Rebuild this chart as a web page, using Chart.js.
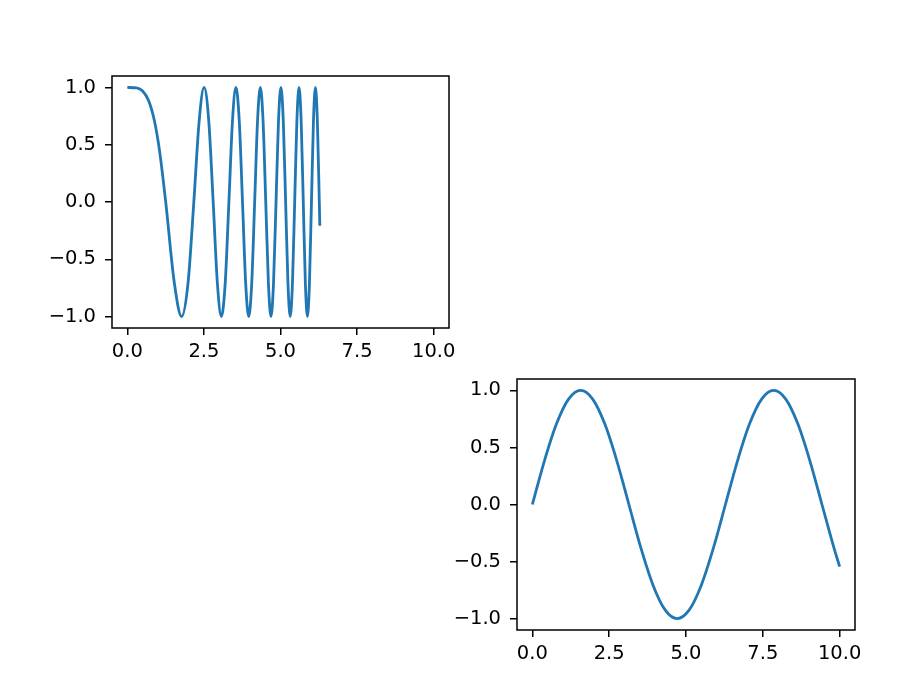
<!DOCTYPE html>
<html>
<head>
<meta charset="utf-8">
<script src="https://cdn.jsdelivr.net/npm/chart.js@4"></script>
<style>
html,body{margin:0;padding:0;background:#fff}
#wrap{position:relative;width:902px;height:680px}
#wrap canvas{position:absolute;left:0;top:0}
</style>
</head>
<body>
<div id="wrap">
<canvas id="haut" width="902" height="680"></canvas>
<canvas id="bas" width="902" height="680"></canvas>
</div>
<script>
// haut gauche : courbe qui accelere
var x_haut = [0, 0.3, 0.5, 0.7, 0.8862, 1.05, 1.2533, 1.5350, 1.7725, 1.9817, 2.1708, 2.3447, 2.5066,
	2.6587, 2.8025, 2.9393, 3.0700, 3.1954, 3.3160, 3.4324, 3.5449, 3.6540, 3.7599, 3.8630, 3.9633,
	4.0612, 4.1568, 4.2502, 4.3416, 4.4311, 4.5189, 4.6050, 4.6895, 4.7725, 4.8541, 4.9343, 5.0133,
	5.0910, 5.1675, 5.2430, 5.3174, 5.3907, 5.4631, 5.5345, 5.6050, 5.6746, 5.7434, 5.8114, 5.8786,
	5.9450, 6.0107, 6.0757, 6.1400, 6.2036, 6.2666, 6.2832]
var y_haut = [1, 0.996, 0.969, 0.882, 0.707, 0.451, 0, -0.707, -1, -0.707, 0, 0.707, 1,
	0.707, 0, -0.707, -1, -0.707, 0, 0.707, 1, 0.707, 0, -0.707, -1,
	-0.707, 0, 0.707, 1, 0.707, 0, -0.707, -1, -0.707, 0, 0.707, 1,
	0.707, 0, -0.707, -1, -0.707, 0, 0.707, 1, 0.707, 0, -0.707, -1,
	-0.707, 0, 0.707, 1, 0.707, 0, -0.207]
// bas droite : sinus
var x_bas = [0, 0.3927, 0.7854, 1.1781, 1.5708, 1.9635, 2.3562, 2.7489, 3.1416, 3.5343, 3.9270,
	4.3197, 4.7124, 5.1051, 5.4978, 5.8905, 6.2832, 6.6759, 7.0686, 7.4613, 7.8540, 8.2467,
	8.6394, 9.0321, 9.4248, 9.8175, 10]
var y_bas = [0, 0.383, 0.707, 0.924, 1, 0.924, 0.707, 0.383, 0, -0.383, -0.707,
	-0.924, -1, -0.924, -0.707, -0.383, 0, 0.383, 0.707, 0.924, 1, 0.924,
	0.707, 0.383, 0, -0.383, -0.544]
var x_graduations = [0, 2.5, 5, 7.5, 10]
var y_graduations = [-1, -0.5, 0, 0.5, 1]

var police = {family: "DejaVu Sans", size: 19.5}

function points(xs, ys){
	var res = []
	for(var i=0;i<xs.length;i++){
		res.push({x: xs[i], y: ys[i]})
	}
	return res
}
function etiquette(v){
	var t = Math.abs(v).toFixed(1)
	if(v < 0) t = "\u2212" + t
	return t
}
var cadre = {
	id: "cadre",
	afterDraw: function(chart){
		var a = chart.chartArea
		var ctx = chart.ctx
		ctx.save()
		ctx.strokeStyle = "#000"
		ctx.lineWidth = 1.5
		ctx.strokeRect(a.left, a.top, a.right - a.left, a.bottom - a.top)
		ctx.restore()
	}
}
function graphe(id, xs, ys, zone){
	new Chart(id, {
		type: "line",
		data: {datasets: [{data: points(xs, ys), borderColor: "#1f77b4", borderWidth: 2.8,
			pointRadius: 0, cubicInterpolationMode: "monotone", fill: false}]},
		options: {
			responsive: false,
			animation: false,
			devicePixelRatio: 1,
			layout: {padding: {left: 0, top: zone.top, right: 902 - zone.right, bottom: 0}},
			plugins: {legend: {display: false}, tooltip: {enabled: false}},
			scales: {
				x: {type: "linear", min: -0.5, max: 10.5,
					afterBuildTicks: function(s){ s.ticks = x_graduations.map(v => ({value: v})) },
					afterFit: function(s){ s.height = 680 - zone.bottom },
					grid: {drawOnChartArea: false, drawTicks: true, tickLength: 7, color: "#000", lineWidth: 1.5},
					border: {display: false},
					ticks: {font: police, color: "#000", padding: 5, maxRotation: 0,
						callback: function(v){ return etiquette(v) }}},
				y: {type: "linear", min: -1.1, max: 1.1,
					afterBuildTicks: function(s){ s.ticks = y_graduations.map(v => ({value: v})) },
					afterFit: function(s){ s.width = zone.left },
					grid: {drawOnChartArea: false, drawTicks: true, tickLength: 7, color: "#000", lineWidth: 1.5},
					border: {display: false},
					ticks: {font: police, color: "#000", padding: 9,
						callback: function(v){ return etiquette(v) }}}
			}
		},
		plugins: [cadre]
	})
}
graphe("haut", x_haut, y_haut, {left: 112, right: 449, top: 76, bottom: 328})
graphe("bas", x_bas, y_bas, {left: 517, right: 855, top: 379, bottom: 630})
</script>
</body>
</html>
